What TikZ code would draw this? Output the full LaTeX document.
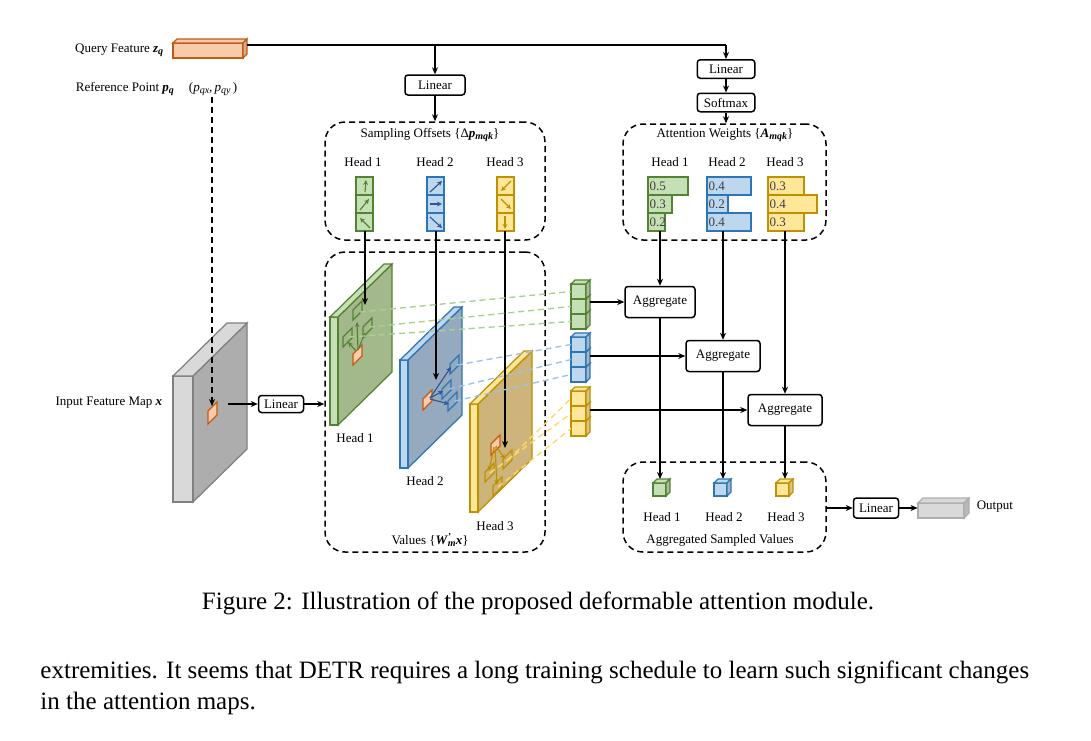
\documentclass[tikz,border=0pt]{standalone}
\usepackage{amsmath,amssymb,bm}
\usepackage{fontspec}
\setmainfont{Liberation Serif}
\usepackage{tikz}
\usetikzlibrary{arrows.meta,positioning,fit}

\definecolor{grnf}{HTML}{C5E0B4}
\definecolor{grnd}{HTML}{548235}
\definecolor{grnm}{HTML}{A3B98C}
\definecolor{grnl}{HTML}{A9D18E}
\definecolor{bluf}{HTML}{BDD7EE}
\definecolor{blud}{HTML}{2E75B6}
\definecolor{blua}{HTML}{2F5597}
\definecolor{blum}{HTML}{95A9BF}
\definecolor{blul}{HTML}{9DC3E6}
\definecolor{ylwf}{HTML}{FFE699}
\definecolor{ylwd}{HTML}{BF9000}
\definecolor{ylwm}{HTML}{CCB47A}
\definecolor{ylwl}{HTML}{FFD966}
\definecolor{orgf}{HTML}{F8CBAD}
\definecolor{orgd}{HTML}{C55A11}
\definecolor{gryf}{HTML}{D9D9D9}
\definecolor{grym}{HTML}{ADADAD}
\definecolor{gryd}{HTML}{808080}

\newcommand\bix[1]{\textbf{\textit{#1}}}
\newcommand\lowr[1]{\raisebox{-0.7pt}{\fontsize{4}{4}\selectfont #1}}
% slab: x y stripwidth height strip face border
\newcommand\fmap[7]{%
  \draw[draw=#7,fill=#6,line width=0.5pt] ({#1+#3},#2) -- ++(54,-53) -- ++(0,#4) -- ++(-54,53) -- cycle;
  \draw[draw=#7,fill=#5,line width=0.5pt] (#1,#2) rectangle ++(#3,#4);
  \draw[draw=#7,fill=#5,line width=0.5pt] (#1,#2) -- ++(54,-53) -- ++(#3,0) -- ++(-54,53) -- cycle;}
\newcommand\patch[4][]{\draw[line width=0.5pt,#1] (#2,#3) -- ++(0,-#4) -- ++(9,-9) -- ++(0,#4) -- cycle;}
\newcommand\vcube[5]{%
  \draw[draw=#5,fill=#4,line width=0.5pt] (#1,#2) rectangle ++(#3,#3);
  \draw[draw=#5,fill=#4,line width=0.5pt] (#1,#2) -- ++(4,-4) -- ++(#3,0) -- ++(-4,4) -- cycle;
  \draw[draw=#5,fill=#4!85!black,line width=0.5pt] ({#1+#3},#2) -- ++(4,-4) -- ++(0,#3) -- ++(-4,4) -- cycle;}

\begin{document}
\begin{tikzpicture}[x=0.4pt,y=-0.4pt, every node/.style={font=\fontsize{5.2}{6}\selectfont},
  box/.style={draw, rounded corners=1.2pt, line width=0.6pt, inner sep=1pt, minimum height=7.4pt},
  grp/.style={draw, dash pattern=on 2.4pt off 1.6pt, rounded corners=8pt, line width=0.6pt, inner sep=0pt},
  line/.style={-{Stealth[length=2.8pt,width=2.4pt]}, line width=0.5pt},
  tip/.style={-{Stealth[length=2pt,width=1.9pt]}, line width=0.45pt},
  link/.style={dash pattern=on 2.4pt off 1.6pt, line width=0.55pt},
  bigtext/.style={font=\fontsize{10}{12.5}\selectfont}]
  \useasboundingbox (0,0) rectangle (1091,740);

  % query and reference point
  \draw[draw=orgd,fill=orgf,line width=0.5pt] (173,43) rectangle (243,58);
  \draw[draw=orgd,fill=orgf,line width=0.5pt] (173,43) -- (177,39) -- (247,39) -- (243,43) -- cycle;
  \draw[draw=orgd,fill=orgf!85!black,line width=0.5pt] (243,43) -- (247,39) -- (247,54) -- (243,58) -- cycle;
  \node[inner sep=0pt, fit={(173,39) (247,58)}] (qbar) {};
  \node[anchor=east] (qtxt) at (172,50) {Query Feature \bix{z}\lowr{\bix{q}}};
  \node[anchor=west] (rtxt) at (67,89) {Reference Point \bix{p}\lowr{\bix{q}}\hspace{6pt}(\textit{p}\lowr{\textit{qx}},\,\textit{p}\lowr{\textit{qy}}\,)};
  \coordinate (qout) at (247,45);
  \coordinate (qj1) at (435,45);
  \coordinate (qj2) at (726,45);
  \coordinate (rp) at (212,97);
  \coordinate (rpin) at (212,406);

  \node[box, minimum width=24pt, minimum height=8pt] (linoff) at (435,85) {Linear};
  \node[box, minimum width=23pt] (linatt) at (726,69) {Linear};
  \node[box, minimum width=23pt, below=5.4pt of linatt] (softmax) {Softmax};

  % groups
  \node[grp, fit={(325,122) (545,240)}] (offbox) {};
  \node[grp, fit={(623,124) (826,240)}] (attbox) {};
  \node[grp, fit={(325,252) (545,552)}] (valbox) {};
  \node[grp, fit={(623,462) (826,552)}] (aggbox) {};
  \node (offtitle) at (430,135) {Sampling Offsets \{Δ\bix{p}\lowr{\bix{mqk}}\}};
  \node (atttitle) at (725,135) {Attention Weights \{\bix{A}\lowr{\bix{mqk}}\}};
  \node (valtitle) at (430,540) {Values \{\bix{W}\rlap{\textsuperscript{\bix{'}}}\lowr{\bix{m}}\bix{x}\}};
  \node (aggtitle) at (720,540) {Aggregated Sampled Values};

  \draw[line width=0.5pt] (qout) -- (qj2);
  \draw[line] (qj2) -- (linatt);
  \draw[line] (qj1) -- (linoff);
  \draw[line] (linoff) -- (linoff |- offbox.north);
  \draw[line] (linatt) -- (softmax);
  \draw[line] (softmax) -- (softmax |- attbox.north);

  % sampling offsets
  \foreach \x/\n in {363/1,435/2,505/3} \node (oh\n) at (\x,162) {Head \n};
  \foreach \k in {0,1,2} {
    \draw[draw=grnd,fill=grnf,line width=0.5pt] (356,{177+18*\k}) rectangle ++(17,18);
    \draw[draw=blud,fill=bluf,line width=0.5pt] (427,{177+18*\k}) rectangle ++(17,18);
    \draw[draw=ylwd,fill=ylwf,line width=0.5pt] (497,{177+18*\k}) rectangle ++(17,18);
  }
  \draw[tip,grnd] (365,192) -- (366,180);
  \draw[tip,grnd] (360,210) -- (369,199);
  \draw[tip,grnd] (370,228) -- (360,218);
  \draw[tip,blua] (430,192) -- (442,181);
  \draw[tip,blua] (430,204) -- (442,204);
  \draw[tip,blua] (430,217) -- (442,228);
  \draw[tip,ylwd] (511,181) -- (501,191);
  \draw[tip,ylwd] (501,199) -- (511,209);
  \draw[tip,ylwd] (505,216) -- (505,229);

  % attention weights
  \foreach \x/\n in {670/1,727/2,785/3} \node (ah\n) at (\x,162) {Head \n};
  \foreach \xa/\xb/\y/\v/\c/\d [count=\i] in {648/688/177/0.5/grnf/grnd, 648/672/195/0.3/grnf/grnd, 648/665/213/0.2/grnf/grnd,
      707/751/177/0.4/bluf/blud, 707/728/195/0.2/bluf/blud, 707/751/213/0.4/bluf/blud,
      768/804/177/0.3/ylwf/ylwd, 768/817/195/0.4/ylwf/ylwd, 768/804/213/0.3/ylwf/ylwd} {
    \draw[draw=\d,fill=\c,line width=0.5pt] (\xa,\y) rectangle (\xb,\y+18);
    \node[anchor=west, inner sep=0.4pt, text=black!75] (w\i) at (\xa,\y+9) {\v};
  }

  % input feature map
  \fmap{173}{376}{20}{126}{gryf}{grym}{gryd}
  \patch[draw=orgd,fill=orgf]{208}{424}{13}
  \node[anchor=east] (intxt) at (171,403) {Input Feature Map \bix{x}};
  \draw[line, dash pattern=on 2.4pt off 1.6pt] (rp) -- (rpin);
  \coordinate (inout) at (228,404);
  \node[box, minimum width=18pt, minimum height=6.8pt] (linin) at (281,404) {Linear};
  \draw[line] (inout) -- (linin);
  \draw[line] (linin) -- (linin -| valbox.west);

  % value maps
  \fmap{330}{317}{8}{108}{grnf}{grnm}{grnd}
  \fmap{400}{360}{8}{108}{bluf}{blum}{blud}
  \fmap{470}{404}{8}{108}{ylwf}{ylwm}{ylwd}
  \node (mh1) at (355,438) {Head 1};
  \node (mh2) at (425,481) {Head 2};
  \node (mh3) at (495,526) {Head 3};

  \patch[draw=orgd,fill=orgf]{353}{365}{11}
  \patch[draw=grnd]{353}{320}{10}
  \patch[draw=grnd]{363}{337}{10}
  \patch[draw=grnd]{343}{347}{10}
  \draw[tip,grnd] (358,350) -- (357,322);
  \draw[tip,grnd] (358,350) -- (365,333);
  \draw[tip,grnd] (356,351) -- (348,342);

  \patch[draw=orgd,fill=orgf]{423}{410}{11}
  \patch[draw=blud]{450}{374}{10}
  \patch[draw=blud]{442}{399}{10}
  \patch[draw=blud]{448}{411}{10}
  \draw[tip,blua] (430,398) -- (451,367);
  \draw[tip,blua] (430,398) -- (443,391);
  \draw[tip,blua] (430,399) -- (449,404);

  \patch[draw=orgd,fill=orgf]{491}{455}{11}
  \patch[draw=ylwd]{503}{469}{10}
  \patch[draw=ylwd]{485}{482}{10}
  \patch[draw=ylwd]{493}{496}{10}
  \draw[tip,ylwd] (496,446) -- (505,459);
  \draw[tip,ylwd] (494,447) -- (489,471);
  \draw[tip,ylwd] (495,447) -- (497,485);

  % offsets into the maps
  \coordinate (os1) at (365,231); \coordinate (mt1) at (365,305);
  \coordinate (os2) at (436,231); \coordinate (mt2) at (436,380);
  \coordinate (os3) at (505,231); \coordinate (mt3) at (505,448);
  \draw[line] (os1) -- (mt1);
  \draw[line] (os2) -- (mt2);
  \draw[line] (os3) -- (mt3);

  % sampled value stacks
  \foreach \k in {2,1,0} {
    \vcube{571}{284+15*\k}{15}{grnf}{grnd}
    \vcube{571}{337+15*\k}{15}{bluf}{blud}
    \vcube{571}{391+15*\k}{15}{ylwf}{ylwd}
  }
  \foreach \k in {1,2,3} {
    \coordinate (g\k) at (571,{276.5+15*\k});
    \coordinate (b\k) at (571,{329.5+15*\k});
    \coordinate (y\k) at (571,{383.5+15*\k});
  }
  \draw[link,grnl] (360,312) -- (g1);
  \draw[link,grnl] (369,327) -- (g2);
  \draw[link,grnl] (349,337) -- (g3);
  \draw[link,blul] (457,365) -- (b1);
  \draw[link,blul] (449,389) -- (b2);
  \draw[link,blul] (455,401) -- (b3);
  \draw[link,ylwl] (508,460) -- (y1);
  \draw[link,ylwl] (490,473) -- (y2);
  \draw[link,ylwl] (498,487) -- (y3);

  % aggregation
  \node[box, minimum width=28pt, minimum height=12.4pt] (agg1) at (660,302) {Aggregate};
  \node[box, minimum width=29.6pt, minimum height=12.4pt] (agg2) at (723,356) {Aggregate};
  \node[box, minimum width=29.6pt, minimum height=12.4pt] (agg3) at (785,410) {Aggregate};
  \coordinate (vs1) at (590,302);
  \coordinate (vs2) at (590,356);
  \coordinate (vs3) at (590,410);
  \coordinate (ab1) at (660,231);
  \coordinate (ab2) at (723,231);
  \coordinate (ab3) at (785,231);
  \coordinate (ac1) at (660,479);
  \coordinate (ac2) at (723,479);
  \coordinate (ac3) at (785,479);
  \draw[line] (ab1) -- (agg1);
  \draw[line] (ab2) -- (agg2);
  \draw[line] (ab3) -- (agg3);
  \draw[line] (agg1) -- (ac1);
  \draw[line] (agg2) -- (ac2);
  \draw[line] (agg3) -- (ac3);
  \draw[line] (vs1) -- (agg1);
  \draw[line] (vs2) -- (agg2);
  \draw[line] (vs3) -- (agg3);

  \vcube{653}{483}{13}{grnf}{grnd}
  \vcube{714}{483}{13}{bluf}{blud}
  \vcube{776}{483}{13}{ylwf}{ylwd}
  \node (sh1) at (662,517) {Head 1};
  \node (sh2) at (724,517) {Head 2};
  \node (sh3) at (786,517) {Head 3};

  % output
  \node[box, minimum width=18pt, minimum height=8pt] (linout) at (876,508) {Linear};
  \draw[draw=gryf!80!black,fill=gryf,line width=0.5pt] (918,503) rectangle (964,518);
  \draw[draw=gryf!80!black,fill=gryf,line width=0.5pt] (918,503) -- (923,498) -- (969,498) -- (964,503) -- cycle;
  \draw[draw=gryf!80!black,fill=gryf!85!black,line width=0.5pt] (964,503) -- (969,498) -- (969,513) -- (964,518) -- cycle;
  \node[inner sep=0pt, fit={(918,498) (969,518)}] (outbar) {};
  \node[anchor=west] (outtxt) at (968,507) {Output};
  \draw[line] (aggbox.east |- linout) -- (linout);
  \draw[line] (linout) -- (outbar);

  % caption and text
  \node[bigtext] (cap) at (538,603) {Figure 2: Illustration of the proposed deformable attention module.};
  \node[bigtext, anchor=north west, align=left, inner sep=0pt] (para) at (40,660) {extremities. It seems that DETR requires a long training schedule to learn such significant changes\\in the attention maps.};
\end{tikzpicture}
\end{document}
